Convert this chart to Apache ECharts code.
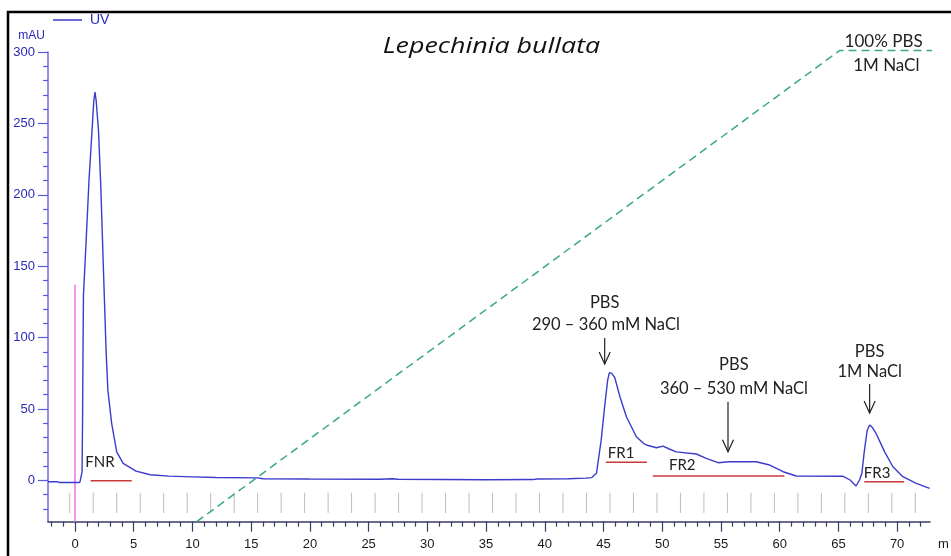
<!DOCTYPE html>
<html><head><meta charset="utf-8">
<script src="https://cdn.jsdelivr.net/npm/echarts@6/dist/echarts.min.js"></script>
<style>html,body{margin:0;padding:0;background:#fff}#c{width:951px;height:556px}</style>
</head><body><div id="c"></div>
<script>
// ---- UV trace (time in min, absorbance in mAU) ----
const uvTime  = [-2.3,-1.5,-1.3,0.0,0.4,0.45,0.55,0.6,0.64,0.68,0.72,0.95,1.19,1.45,1.6,1.7,1.8,2.0,2.2,2.45,2.65,2.8,3.12,3.55,4.1,5.2,6.4,8,10,12,15.5,16,20,26,27,27.5,35,39,39.3,42,42.1,43.5,44.0,44.4,44.8,45.1,45.35,45.5,45.7,45.96,46.4,46.95,47.8,48.4,48.65,49.5,50.07,50.6,51.2,52.9,53.75,54.75,55.7,58,59.15,60.3,61.4,65.4,66,66.5,66.8,67.0,67.2,67.45,67.66,67.9,68.2,68.94,69.64,70.49,71.63,72.77];
const uvValue = [-0.9,-0.9,-1.5,-1.5,-1.5,0,0.5,6,40,90,130,168,210,245,266,272,266,245,205,140,90,63,40,20,12,6.5,4,3,2.5,2,1.8,1.2,1,0.8,1.2,0.8,0.5,0.6,1,1.2,1.8,1.6,2,5,28,52,70,75.5,75,72,58.6,44.6,30.6,26,24.8,22.9,24,22,20,18.5,15.5,12.4,13.1,13.1,10.8,6.1,3.1,2.9,0.3,-3.9,0.3,5,20,35,38.8,37,33,20,9.6,2.6,-2,-5.5];
// ---- salt gradient (dashed green), drawn on the mAU scale ----
const gradTime  = [10.36, 65.1, 73.2];
const gradValue = [-28.9, 301, 301];
// ---- injection mark ----
const injectTime = [0, 0];
const injectValue = [-28.9, 137];
// ---- fraction collector marks ----
const fractionMarks = [-0.45,1.55,3.55,5.55,7.55,9.55,11.55,13.55,15.55,17.55,19.55,21.55,23.55,25.55,27.55,29.55,31.55,33.55,35.55,37.55,39.55,41.55,43.55,45.55,47.55,49.55,51.55,53.55,55.55,57.55,59.55,61.55,63.55,65.55,67.55,69.55,71.55];
const fractionMarkTop = -8.6, fractionMarkBottom = -22.8;
// ---- pooled fractions ----
const poolNames  = ['FNR','FR1','FR2','FR3'];
const poolStart  = [1.33, 45.2, 49.2, 67.2];
const poolEnd    = [4.83, 48.7, 60.4, 70.6];
const poolLevel  = [-0.2, 12.7, 3.1, -0.9];
const poolLabelT = [2.13, 46.5, 51.7, 68.3];
const poolLabelV = [12.9, 19, 10.8, 5.4];
// ---- elution annotations ----
const noteText = ['PBS','290 – 360 mM NaCl','PBS','360 – 530 mM NaCl','PBS','1M NaCl','100% PBS','1M NaCl'];
const noteT    = [45.1, 45.2, 56.1, 56.1, 67.66, 67.66, 68.85, 69.08];
const noteV    = [124.2, 108.8, 80.8, 64, 89.9, 75.9, 307.3, 290.2];
const arrowT     = [45.1, 55.6, 67.66];
const arrowFrom  = [99.7, 55.1, 67.5];
const arrowTo    = [81.5, 20.1, 47.2];
// ---- axes ----
const xMajor = [0,5,10,15,20,25,30,35,40,45,50,55,60,65,70];
const xMinor = [-2,-1,1,2,3,4,6,7,8,9,11,12,13,14,16,17,18,19,21,22,23,24,26,27,28,29,31,32,33,34,36,37,38,39,41,42,43,44,46,47,48,49,51,52,53,54,56,57,58,59,61,62,63,64,66,67,68,69,71,72];
const yMajor = [0,50,100,150,200,250,300];
const yMinor = [-20,-10,10,20,30,40,60,70,80,90,110,120,130,140,160,170,180,190,210,220,230,240,260,270,280,290];
const xMin = -2.3, xMax = 72.8, yMin = -28.9, yMax = 300;
const title = 'Lepechinia bullata';

const BLUE = '#3b3bcc';
const textFont = 'Lato, "Open Sans", sans-serif';
const AR = 'Arial, "Liberation Sans", sans-serif';
const chart = echarts.init(document.getElementById('c'), null, {renderer:'canvas'});

const uvData = uvTime.map((t,i)=>[t, uvValue[i]]);
const gradData = gradTime.map((t,i)=>[t, gradValue[i]]);
const injData = injectTime.map((t,i)=>[t, injectValue[i]]);

function axisBase(extra){
  return Object.assign({type:'value', splitLine:{show:false}}, extra);
}

chart.setOption({
  animation:false,
  backgroundColor:'#fff',
  grid:{left:48, right:21, top:52, bottom:34.3, containLabel:false, outerBoundsMode:'none'},
  legend:{data:[{name:'UV', icon:'rect'}], left:53, top:13, padding:0, itemWidth:29, itemHeight:1.5, itemGap:5,
    textStyle:{color:'#2a2ab8', fontSize:14, fontFamily:AR, padding:[0,0,0,3]}},
  xAxis:[
    axisBase({min:xMin, max:xMax, position:'bottom',
      axisLine:{show:true, onZero:false, lineStyle:{color:'#3a3a66', width:1.5}},
      axisTick:{show:true, customValues:xMajor, length:10, lineStyle:{color:'#3a3a66', width:1.2}},
      axisLabel:{show:true, customValues:xMajor, margin:16, color:'#1a1a1a', fontSize:13, fontFamily:AR},
      name:'m', nameLocation:'end', nameGap:8,
      nameTextStyle:{color:'#1a1a1a', fontSize:13, fontFamily:AR, verticalAlign:'top', padding:[16,0,0,0]}}),
    axisBase({min:xMin, max:xMax, position:'bottom',
      axisLine:{show:false, onZero:false},
      axisTick:{show:true, customValues:xMinor, length:5, lineStyle:{color:'#3a3a66', width:1.2}},
      axisLabel:{show:false}})
  ],
  yAxis:[
    axisBase({min:yMin, max:yMax, position:'left',
      axisLine:{show:true, onZero:false, lineStyle:{color:'#6a6ae0', width:1.5}},
      axisTick:{show:true, customValues:yMajor, length:10, lineStyle:{color:'#5a5ad8', width:1.2}},
      axisLabel:{show:true, customValues:yMajor, margin:13, color:'#2a2ab8', fontSize:13, fontFamily:AR},
      name:'mAU', nameLocation:'end', nameGap:10,
      nameTextStyle:{color:'#2a2ab8', fontSize:12, align:'right', fontFamily:AR, padding:[0,3,0,0]}}),
    axisBase({min:yMin, max:yMax, position:'left',
      axisLine:{show:false, onZero:false},
      axisTick:{show:true, customValues:yMinor, length:5, lineStyle:{color:'#5a5ad8', width:1.2}},
      axisLabel:{show:false}})
  ],
  graphic:[{type:'rect', shape:{x:8, y:12, width:970, height:580}, style:{fill:null, stroke:'#000', lineWidth:2.5}, silent:true, z:100}],
  series:[
    {name:'fractions', type:'custom', silent:true, data:fractionMarks.map(t=>[t]), z:1,
      renderItem:(p,api)=>{
        const a = api.coord([api.value(0), fractionMarkTop]);
        const b = api.coord([api.value(0), fractionMarkBottom]);
        return {type:'line', shape:{x1:a[0],y1:a[1],x2:b[0],y2:b[1]}, style:{stroke:'#bdbdbd', lineWidth:1}};
      }},
    {name:'gradient', type:'line', data:gradData, symbol:'none', clip:false, z:2,
      lineStyle:{color:'#3aa97c', width:1.5, type:[8,5]}},
    {name:'inject', type:'line', data:injData, symbol:'none', z:3,
      lineStyle:{color:'#f07af0', width:1.6}},
    {name:'UV', type:'line', data:uvData, symbol:'none', showSymbol:false, z:5, clip:false,
      itemStyle:{color:BLUE}, lineStyle:{color:BLUE, width:1.4}},
    {name:'pools', type:'custom', silent:true, z:4,
      data:poolNames.map((n,i)=>[poolStart[i], poolEnd[i], poolLevel[i], poolLabelT[i], poolLabelV[i]]),
      renderItem:(p,api)=>{
        const a = api.coord([api.value(0), api.value(2)]);
        const b = api.coord([api.value(1), api.value(2)]);
        const l = api.coord([api.value(3), api.value(4)]);
        return {type:'group', children:[
          {type:'line', shape:{x1:a[0],y1:a[1],x2:b[0],y2:b[1]}, style:{stroke:'#c8393b', lineWidth:1.4}},
          {type:'text', x:l[0], y:l[1], style:{text:poolNames[p.dataIndex], fill:'#222', font:'15px '+textFont, align:'center', verticalAlign:'middle'}}
        ]};
      }},
    {name:'notes', type:'custom', silent:true, z:6,
      data:noteText.map((s,i)=>[noteT[i], noteV[i]]),
      renderItem:(p,api)=>{
        const c = api.coord([api.value(0), api.value(1)]);
        const big = p.dataIndex >= 6;
        return {type:'text', x:c[0], y:c[1], style:{text:noteText[p.dataIndex], fill:'#222', font:(big?'17px ':'16.5px ')+textFont, align:'center', verticalAlign:'middle'}};
      }},
    {name:'arrows', type:'custom', silent:true, z:6,
      data:arrowT.map((t,i)=>[t, arrowFrom[i], arrowTo[i]]),
      renderItem:(p,api)=>{
        const a = api.coord([api.value(0), api.value(1)]);
        const b = api.coord([api.value(0), api.value(2)]);
        return {type:'group', children:[
          {type:'line', shape:{x1:a[0],y1:a[1],x2:b[0],y2:b[1]}, style:{stroke:'#222', lineWidth:1.2}},
          {type:'polyline', shape:{points:[[b[0]-5.5,b[1]-12],[b[0],b[1]],[b[0]+5.5,b[1]-12]]}, style:{stroke:'#222', lineWidth:1.2, fill:null}}
        ]};
      }},
    {name:'title', type:'custom', silent:true, z:6, data:[[35.46, 303.5]],
      renderItem:(p,api)=>{
        const c = api.coord([api.value(0), api.value(1)]);
        return {type:'text', x:c[0], y:c[1], scaleX:1.22, style:{text:title, fill:'#111', font:'italic 22px "Open Sans", sans-serif', align:'center', verticalAlign:'middle'}};
      }}
  ]
});
</script></body></html>
